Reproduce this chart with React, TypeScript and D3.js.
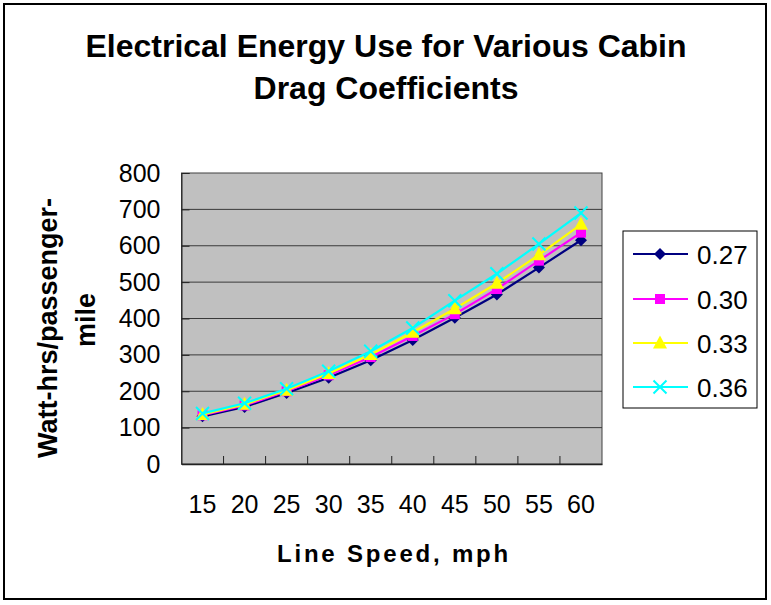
import { axisBottom, axisLeft, line, scaleBand, scaleLinear, select } from 'd3'
import { useEffect, useRef } from 'react'

const speeds = ['15', '20', '25', '30', '35', '40', '45', '50', '55', '60']
const seriesNames = ['0.27', '0.30', '0.33', '0.36']
const cd027 = [131, 157, 195, 237, 285, 341, 402, 466, 540, 615]
const cd030 = [134, 161, 200, 244, 294, 352, 412, 481, 559, 636]
const cd033 = [136, 164, 203, 249, 301, 362, 427, 497, 575, 659]
const cd036 = [139, 167, 207, 255, 310, 374, 449, 523, 605, 690]
const yTicks = [0, 100, 200, 300, 400, 500, 600, 700, 800]

const FONT = 'Arial, "Liberation Sans", sans-serif'

// marker path around 0,0
function markerPath(kind: string) {
  if (kind === 'diamond') return 'M0,-6L6,0L0,6L-6,0Z'
  if (kind === 'square') return 'M-5,-5H5V5H-5Z'
  if (kind === 'triangle') return 'M0,-7.5L7,5.5L-7,5.5Z'
  return 'M-6.5,-6.5L6.5,6.5M6.5,-6.5L-6.5,6.5'
}

export default function App() {
  const svgRef = useRef<SVGSVGElement>(null)

  useEffect(() => {
    const svg = select(svgRef.current)
    svg.selectAll('*').remove()

    const left = 181.5
    const right = 602
    const top = 173
    const bottom = 464

    const series = [
      { name: seriesNames[0], values: cd027, color: '#000080', marker: 'diamond' },
      { name: seriesNames[1], values: cd030, color: '#FF00FF', marker: 'square' },
      { name: seriesNames[2], values: cd033, color: '#FFFF00', marker: 'triangle' },
      { name: seriesNames[3], values: cd036, color: '#00FFFF', marker: 'x' },
    ]

    // outer frame
    svg
      .append('rect')
      .attr('x', 4)
      .attr('y', 4)
      .attr('width', 762)
      .attr('height', 595)
      .attr('fill', '#fff')
      .attr('stroke', '#000')
      .attr('stroke-width', 2)

    // title
    const title = svg
      .append('text')
      .attr('text-anchor', 'middle')
      .attr('font-family', FONT)
      .attr('font-weight', 'bold')
      .attr('font-size', 32)
    title.append('tspan').attr('x', 386).attr('y', 57).text('Electrical Energy Use for Various Cabin')
    title.append('tspan').attr('x', 386).attr('y', 99).text('Drag Coefficients')

    const x = scaleBand().domain(speeds).range([left, right])
    const y = scaleLinear().domain([0, 800]).range([bottom, top])

    // plot area
    svg
      .append('rect')
      .attr('x', left)
      .attr('y', top)
      .attr('width', right - left)
      .attr('height', bottom - top)
      .attr('fill', '#C0C0C0')
      .attr('stroke', '#404040')
      .attr('stroke-width', 1)

    // gridlines
    svg
      .append('g')
      .selectAll('line')
      .data(yTicks.slice(1, -1))
      .enter()
      .append('line')
      .attr('x1', left)
      .attr('x2', right)
      .attr('y1', (d) => y(d))
      .attr('y2', (d) => y(d))
      .attr('stroke', '#3a3a3a')
      .attr('stroke-width', 1)

    // Y axis
    const yAxis = svg
      .append('g')
      .attr('transform', `translate(${left},0)`)
      .call(axisLeft(y).tickValues(yTicks).tickSize(-8).tickPadding(21))
    yAxis.select('.domain').attr('stroke', '#222')
    yAxis.selectAll('.tick line').attr('stroke', '#222')
    yAxis.selectAll('text').attr('font-family', FONT).attr('font-size', 25).attr('fill', '#000')

    // X axis
    const xAxis = svg
      .append('g')
      .attr('transform', `translate(0,${bottom})`)
      .call(axisBottom(x).tickSize(0).tickPadding(31))
    xAxis.select('.domain').attr('stroke', '#222').attr('stroke-width', 1.5)
    xAxis.selectAll('text').attr('font-family', FONT).attr('font-size', 25).attr('fill', '#000')
    // tick marks sit on the category boundaries
    xAxis
      .selectAll('line.bound')
      .data(speeds.slice(1))
      .enter()
      .append('line')
      .attr('class', 'bound')
      .attr('x1', (d) => x(d) as number)
      .attr('x2', (d) => x(d) as number)
      .attr('y1', 0)
      .attr('y2', -8)
      .attr('stroke', '#222')

    // axis titles
    svg
      .append('text')
      .attr('x', 394)
      .attr('y', 562)
      .attr('text-anchor', 'middle')
      .attr('font-family', FONT)
      .attr('font-weight', 'bold')
      .attr('font-size', 24)
      .attr('letter-spacing', 2.8)
      .text('Line Speed, mph')

    const yTitle = svg
      .append('g')
      .attr('font-family', FONT)
      .attr('font-weight', 'bold')
      .attr('font-size', 27)
      .attr('text-anchor', 'middle')
    yTitle.append('text').attr('transform', 'translate(57,328) rotate(-90)').text('Watt-hrs/passenger-')
    yTitle.append('text').attr('transform', 'translate(95,320) rotate(-90)').text('mile')

    // series
    const cx = (d: string) => (x(d) as number) + x.bandwidth() / 2
    series.forEach((s) => {
      const pts = s.values.map((v, i) => [cx(speeds[i]), y(v)] as [number, number])
      svg
        .append('path')
        .attr('d', line()(pts))
        .attr('fill', 'none')
        .attr('stroke', s.color)
        .attr('stroke-width', 2.2)
      svg
        .append('g')
        .selectAll('path')
        .data(pts)
        .enter()
        .append('path')
        .attr('transform', (p) => `translate(${p[0]},${p[1]})`)
        .attr('d', markerPath(s.marker))
        .attr('fill', s.marker === 'x' ? 'none' : s.color)
        .attr('stroke', s.color)
        .attr('stroke-width', s.marker === 'x' ? 2 : 0)
    })

    // legend
    const legend = svg.append('g')
    legend
      .append('rect')
      .attr('x', 623)
      .attr('y', 231)
      .attr('width', 134)
      .attr('height', 177)
      .attr('fill', '#fff')
      .attr('stroke', '#000')
      .attr('stroke-width', 1)
    const rowY = [254, 299, 343, 387]
    series.forEach((s, i) => {
      const g = legend.append('g').attr('transform', `translate(0,${rowY[i]})`)
      g.append('line')
        .attr('x1', 633)
        .attr('x2', 688)
        .attr('y1', 0)
        .attr('y2', 0)
        .attr('stroke', s.color)
        .attr('stroke-width', 2)
      g.append('path')
        .attr('transform', 'translate(660,0)')
        .attr('d', markerPath(s.marker))
        .attr('fill', s.marker === 'x' ? 'none' : s.color)
        .attr('stroke', s.color)
        .attr('stroke-width', s.marker === 'x' ? 2 : 0)
      g.append('text')
        .attr('x', 697)
        .attr('y', 9.5)
        .attr('font-family', FONT)
        .attr('font-size', 26)
        .text(s.name)
    })
  }, [])

  return (
    <svg
      ref={svgRef}
      width={771}
      height={605}
      style={{ position: 'absolute', left: 0, top: 0, display: 'block' }}
    />
  )
}
